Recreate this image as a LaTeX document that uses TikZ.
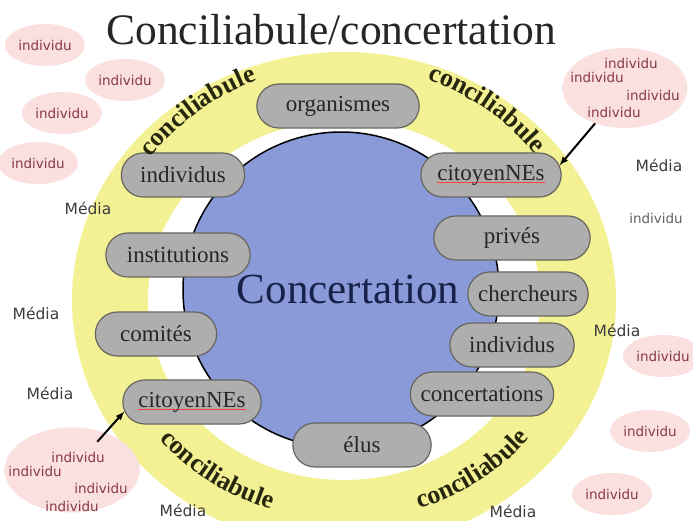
\documentclass[tikz,border=0pt]{standalone}
\usepackage{fontspec}
\setmainfont{Liberation Serif}
\newfontfamily\blobfont{DejaVu Sans}
\usepackage{tikz}
\usetikzlibrary{shapes, arrows, decorations.text, positioning}
\definecolor{ringyellow}{HTML}{F4F194}
\definecolor{concblue}{HTML}{8A9AD8}
\definecolor{concink}{HTML}{17224A}
\definecolor{pillgray}{HTML}{AEAEAE}
\definecolor{pilledge}{HTML}{66665E}
\definecolor{blobpink}{HTML}{FBE0E0}
\definecolor{blobink}{HTML}{8A3A46}
\definecolor{mediaink}{HTML}{3C3C3C}
\definecolor{labelink}{HTML}{26260E}
\pgfdeclareradialshading{blobshade}{\pgfpoint{0bp}{0bp}}{color(0bp)=(blobpink); color(30bp)=(blobpink); color(50bp)=(white)}
\newcommand{\arcfont}{\color{labelink}\bfseries\fontsize{26}{26}\selectfont}
\newsavebox{\spellbox}
\newcommand{\spellmark}[1]{\sbox{\spellbox}{#1}\rlap{\color{red!75}\rule[-3pt]{\wd\spellbox}{0.7pt}}\usebox{\spellbox}}
\tikzstyle{pill} = [rounded rectangle, draw=pilledge, fill=pillgray, line width=1.2pt, minimum height=44pt,
                    text=black!85, font=\fontsize{23}{23}\selectfont]
\tikzstyle{blob} = [ellipse, shade, shading=blobshade, minimum width=80pt, minimum height=42pt, inner sep=0,
                    text=blobink, font=\blobfont\fontsize{13.5}{13.5}\selectfont]
\tikzstyle{grp} = [ellipse, shade, shading=blobshade, inner sep=0]
\tikzstyle{who} = [text=blobink, font=\blobfont\fontsize{13.5}{13.5}\selectfont, inner sep=0]
\tikzstyle{media} = [text=mediaink, font=\blobfont\fontsize{15.5}{15.5}\selectfont, inner sep=0]
\tikzstyle{link} = [-latex, line width=2pt]

\begin{document}
\begin{tikzpicture}[x=1pt, y=1pt]
	\useasboundingbox (0, 0) rectangle (693, 520);
	\clip (0, 0) rectangle (693, 520);

	% the rings
	\fill [ringyellow] (344, 220) ellipse [x radius=272, y radius=248];
	\fill [white] (344, 220) ellipse [x radius=196, y radius=180];
	\filldraw [fill=concblue, draw=black, line width=1.5pt] (341, 230) circle [radius=158];

	\node (Title) [anchor=base, text=black!85, font=\fontsize{43.5}{43.5}\selectfont] at (331, 475) {Conciliabule/concertation};
	\node (Conc) [anchor=base, text=concink, font=\fontsize{43}{43}\selectfont] at (348, 217) {Concertation};

	% the actors
	\node (Org) [pill, minimum width=169pt] at (338, 414) {organismes};
	\node (IndL) [pill, minimum width=130pt] at (183, 345) {individus};
	\node (CitTR) [pill, minimum width=147pt] at (491, 345) {\spellmark{citoyenNEs}};
	\node (Priv) [pill, minimum width=163pt] at (512, 282) {privés};
	\node (Inst) [pill, minimum width=151pt] at (178, 265) {institutions};
	\node (Cherch) [pill, minimum width=127pt] at (528, 226) {chercheurs};
	\node (Com) [pill, minimum width=128pt] at (156, 186) {comités};
	\node (IndR) [pill, minimum width=131pt] at (512, 175) {individus};
	\node (Concs) [pill, minimum width=150pt] at (482, 126) {concertations};
	\node (CitBL) [pill, minimum width=145pt] at (192, 118) {\spellmark{citoyenNEs}};
	\node (Elus) [pill, minimum width=145pt] at (362, 75) {élus};

	% conciliabule, four times round the ring
	\path [decorate, decoration={text along path, text align=center, text={|\arcfont|conciliabule}}]
		(344, 220) ++(152:243 and 235) arc [start angle=152, end angle=102, x radius=243, y radius=235];
	\path [decorate, decoration={text along path, text align=center, text={|\arcfont|conciliabule}}]
		(344, 220) ++(79:243 and 235) arc [start angle=79, end angle=29, x radius=243, y radius=235];
	\path [decorate, decoration={text along path, text align=center, text={|\arcfont|conciliabule}}]
		(344, 220) ++(211:238 and 220) arc [start angle=211, end angle=260, x radius=238, y radius=220];
	\path [decorate, decoration={text along path, text align=center, text={|\arcfont|conciliabule}}]
		(344, 220) ++(280:238 and 220) arc [start angle=280, end angle=330, x radius=238, y radius=220];

	% individus outside
	\node (Ind1) [blob] at (45, 475) {individu};
	\node (Ind2) [blob] at (125, 440) {individu};
	\node (Ind3) [blob] at (62, 407) {individu};
	\node (Ind4) [blob] at (38, 357) {individu};
	\node (Ind5) [blob] at (663, 164) {individu};
	\node (Ind6) [blob] at (650, 89) {individu};
	\node (Ind7) [blob] at (612, 26) {individu};
	\node (Ind8) [who, text=mediaink!80] at (656, 302) {individu};

	% groups
	\node (GrpTR) [grp, minimum width=125pt, minimum height=80pt] at (625, 432) {};
	\node (GrpTRa) [who] at (631, 457) {individu};
	\node (GrpTRb) [who] at (597, 443) {individu};
	\node (GrpTRc) [who] at (653, 425) {individu};
	\node (GrpTRd) [who] at (614, 408) {individu};

	\node (GrpBL) [grp, minimum width=135pt, minimum height=85pt] at (72, 50) {};
	\node (GrpBLa) [who] at (78, 63) {individu};
	\node (GrpBLb) [who] at (35, 49) {individu};
	\node (GrpBLc) [who] at (101, 32) {individu};
	\node (GrpBLd) [who] at (72, 14) {individu};

	\draw [link] (GrpTR) -- (CitTR.8);
	\draw [link, shorten <=-12pt] (GrpBL) -- (CitBL.188);

	% media
	\node (Med1) [media] at (88, 312) {Média};
	\node (Med2) [media] at (36, 207) {Média};
	\node (Med3) [media] at (50, 127) {Média};
	\node (Med4) [media] at (183, 10) {Média};
	\node (Med5) [media] at (659, 355) {Média};
	\node (Med6) [media] at (617, 190) {Média};
	\node (Med7) [media] at (513, 9) {Média};
\end{tikzpicture}
\end{document}
